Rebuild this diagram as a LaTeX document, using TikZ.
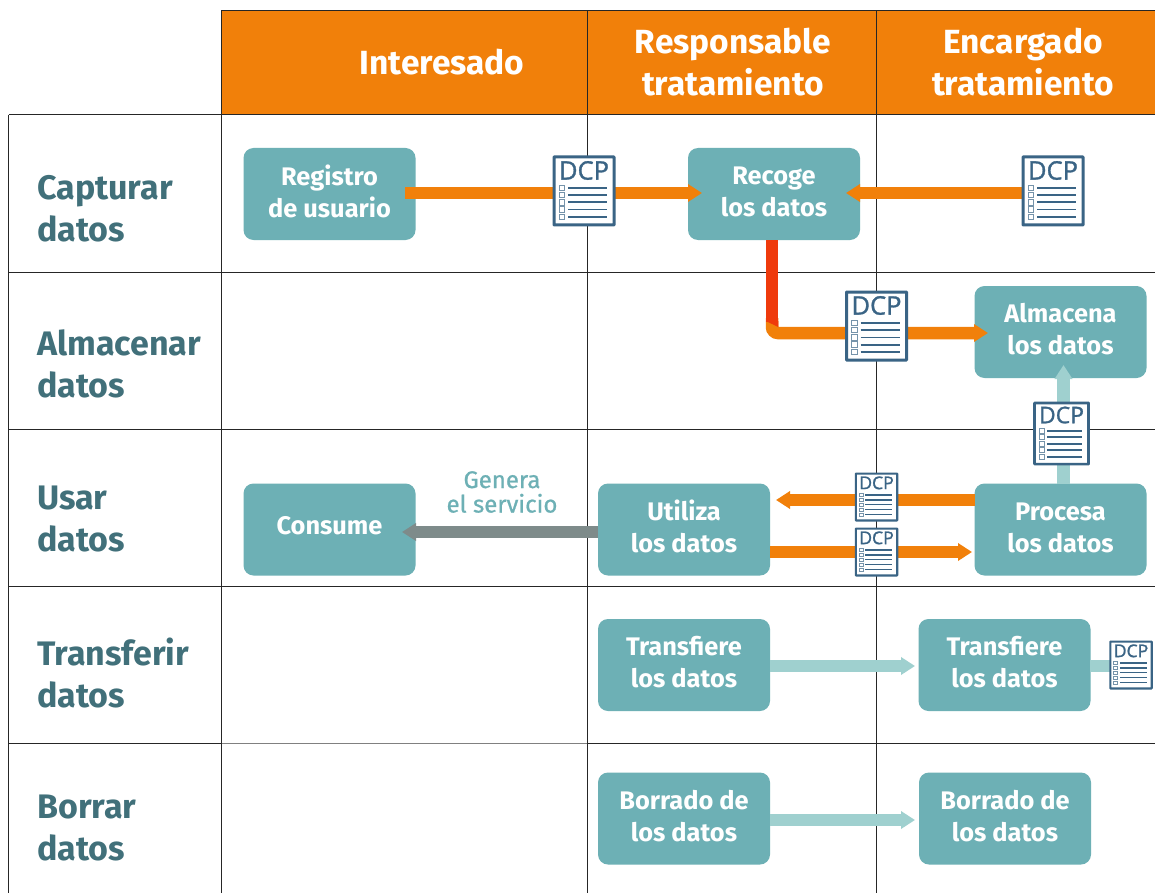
\documentclass[tikz,border=0pt]{standalone}
\usepackage{fontspec}
\setmainfont{Fira Sans}
\newfontfamily\dcpfont[FakeBold=1.2]{Open Sans}
\newfontfamily\medfont[FakeBold=0.8]{Fira Sans}
\usetikzlibrary{arrows.meta,calc}
\definecolor{headorange}{HTML}{F1800A}
\definecolor{tealbox}{HTML}{6DB0B5}
\definecolor{tealtext}{HTML}{41707A}
\definecolor{lighttrack}{HTML}{9FD0CF}
\definecolor{docblue}{HTML}{3A6485}
\definecolor{redtrack}{HTML}{EF3A0C}
\definecolor{greytrack}{HTML}{7E8B8A}
\tikzset{
  x=1pt,y=-1pt,
  grid/.style={draw=black!85,line width=1pt},
  procbox/.style={fill=tealbox,rounded corners=10pt,text=white,font=\fontsize{25.4}{32}\selectfont\bfseries,align=center,inner sep=0pt,anchor=center,minimum width=172pt,minimum height=92pt,text depth=5.5pt},
  headtxt/.style={text=white,font=\fontsize{33.5}{41.5}\selectfont\bfseries,align=center,inner sep=0pt},
  rowtxt/.style={text=tealtext,font=\fontsize{34}{42}\selectfont\bfseries,align=left,inner sep=0pt,anchor=west},
  flow/.style={line width=12.5pt,-{Triangle[length=14pt,width=17pt]}},
  flowplain/.style={line width=12.5pt},
}
\newcommand{\dcpdoc}[4]{% name, cx, cy, scale
  \pgfmathsetmacro{\dcpfs}{#4*25.5}
  \node[draw=docblue,line width=#4*3pt,fill=white,minimum width=#4*60pt,minimum height=#4*68pt,inner sep=0pt,rounded corners=.5pt] (#1) at (#2,#3) {};
  \begin{scope}[shift={(#2,#3)}]
    \node[text=docblue,inner sep=0pt,font=\dcpfont\fontsize{\dcpfs}{\dcpfs}\selectfont] at (0,-#4*20.5) {DCP};
    \foreach \r in {0,1,2,3,4}{
      \draw[docblue,line width=#4*1.8pt] (-#4*16,{#4*(-3+7.2*\r)}) -- (#4*23,{#4*(-3+7.2*\r)});
      \draw[docblue!70,line width=#4*1pt,fill=white] (-#4*25,{#4*(-5.7+7.2*\r)}) rectangle (-#4*19.5,{#4*(-0.3+7.2*\r)});
    }
  \end{scope}
}
\begin{document}
\begin{tikzpicture}
\useasboundingbox[fill=white] (0,0) rectangle (1155,893);
% header
\fill[headorange] (221.5,10.5) rectangle (1155,115);
% grid
\draw[grid] (221.5,10.5) -- (1155,10.5);
\draw[grid] (221.5,10.5) -- (221.5,893);
\draw[grid] (587,10.5) -- (587,893);
\draw[grid] (876,10.5) -- (876,893);
\draw[grid] (8.7,115) -- (8.7,893);
\foreach \yy in {115,272,429,586} \draw[grid] (8.7,\yy) -- (1155,\yy);
\draw[grid] (8.7,743) -- (221.5,743);
\draw[grid,draw=black!50] (221.5,743) -- (587,743);
\draw[grid] (587,743) -- (1155,743);
% header texts
\node[headtxt] (h1) at (442,62) {Interesado};
\node[headtxt] (h2) at (733,62) {Responsable\\tratamiento};
\node[headtxt] (h3) at (1023,62) {Encargado\\tratamiento};
% row texts
\node[rowtxt] (r1) at (37,209) {Capturar\\datos};
\node[rowtxt] (r2) at (37,364) {Almacenar\\datos};
\node[rowtxt] (r3) at (37,519) {Usar\\datos};
\node[rowtxt] (r4) at (37,673) {Transferir\\datos};
\node[rowtxt] (r5) at (37,828) {Borrar\\datos};
% boxes
\node[procbox] (reg) at (329.5,194) {Registro\\de usuario};
\node[procbox] (rec) at (774,194) {Recoge\\los datos};
\node[procbox] (alm) at (1060.5,332) {Almacena\\los datos};
\node[procbox,text depth=7.5pt] (con) at (329.5,529.5) {Consume};
\node[procbox,text depth=6.5pt] (uti) at (684,529.5) {Utiliza\\los datos};
\node[procbox,text depth=3.5pt] (pro) at (1060.5,529.5) {Procesa\\los datos};
\node[procbox] (tr1) at (684,665) {Transfiere\\los datos};
\node[procbox] (tr2) at (1004.5,665) {Transfiere\\los datos};
\node[procbox] (bo1) at (684,818.5) {Borrado de\\los datos};
\node[procbox] (bo2) at (1005,818.5) {Borrado de\\los datos};
% connector way-points
\coordinate (c1) at (584,193);
\coordinate (c3) at (1053,193);
\coordinate (regout) at (405,193);
\coordinate (rectip) at (702,193);
\coordinate (rectip2) at (846,193);
\coordinate (redtop) at (772,240);
\coordinate (redend) at (772,322);
\coordinate (bendstart) at (772,318);
\coordinate (bend) at (772,333);
\coordinate (almtip) at (988,333);
\coordinate (protop) at (1063.5,484);
\coordinate (almtipv) at (1063.5,365);
\coordinate (proa) at (975,500);
\coordinate (utia) at (776,500);
\coordinate (utib) at (770,552);
\coordinate (prob) at (972,552);
\coordinate (utic) at (598,532);
\coordinate (cona) at (402,532);
\coordinate (tr1a) at (770,666);
\coordinate (tr2a) at (915,666);
\coordinate (tr2b) at (1090,666);
\coordinate (c7) at (1120,666);
\coordinate (bo1a) at (770,820);
\coordinate (bo2a) at (915,820);
% connectors
\draw[flowplain,headorange] (regout) -- (c1);
\draw[flow,headorange] (c1) -- (rectip);
\draw[flow,headorange] (c3) -- (rectip2);
\draw[flow,headorange,rounded corners=6pt] (bendstart) -- (bend) -- (almtip);
\draw[flowplain,redtrack] (redtop) -- (redend);
\fill[redtrack] (765.75,321) -- (778.25,321) -- (778.25,327) -- cycle;
\draw[flow,lighttrack] (protop) -- (almtipv);
\draw[flow,headorange] (proa) -- (utia);
\draw[flow,headorange] (utib) -- (prob);
\draw[flow,greytrack] (utic) -- (cona);
\draw[flow,lighttrack] (tr1a) -- (tr2a);
\draw[flowplain,lighttrack] (tr2b) -- (c7);
\draw[flow,lighttrack] (bo1a) -- (bo2a);
% documents
\dcpdoc{d1}{584}{191}{1}
\dcpdoc{d2}{876.5}{326}{1}
\dcpdoc{d3}{1053}{191}{1}
\dcpdoc{d4}{1061.5}{433.5}{.9}
\dcpdoc{d5}{876.5}{497}{.69}
\dcpdoc{d6}{876.5}{552}{.69}
\dcpdoc{d7}{1131}{665}{.69}
% label
\node[text=tealbox,font=\medfont\fontsize{24}{24.5}\selectfont,align=center,inner sep=0pt] (gen) at (502,492) {Genera\\el servicio};
\end{tikzpicture}
\end{document}
